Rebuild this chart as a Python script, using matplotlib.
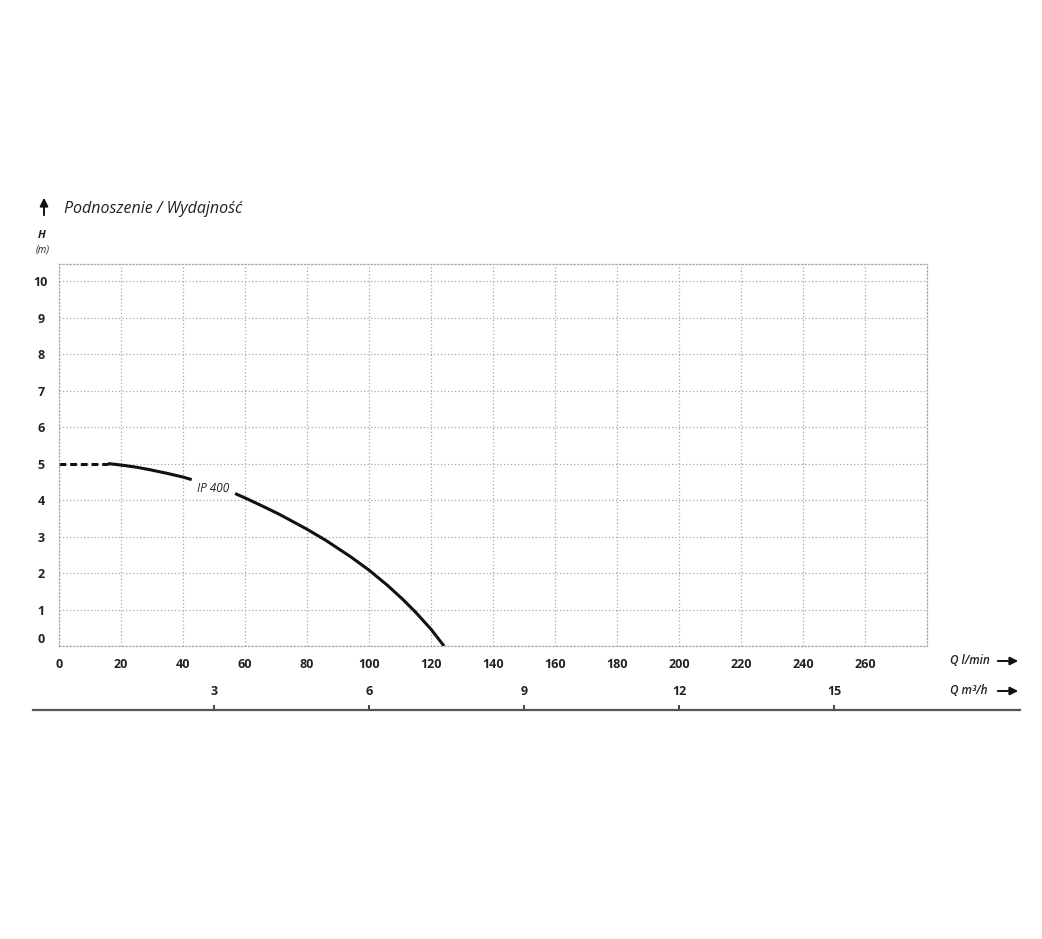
from matplotlib import pyplot as plt
from matplotlib.lines import Line2D
import numpy as np

plt.rcParams['font.family'] = ['Open Sans', 'DejaVu Sans']

# krzywa pompy IP 400 (odczyt z wykresu)
q_dash = [0, 15.8]
h_dash = [5.0, 5.0]
q_part1 = [15.8, 20, 25, 29.4, 35, 40, 42.8]
h_part1 = [5.0, 4.96, 4.9, 4.83, 4.73, 4.63, 4.56]
q_part2 = [56.8, 61, 66, 71.3, 80, 86, 94, 100, 106, 111, 115, 120, 124.2]
h_part2 = [4.18, 4.02, 3.82, 3.6, 3.2, 2.9, 2.45, 2.08, 1.66, 1.27, 0.93, 0.46, 0.0]

q_ticks = list(range(0, 261, 20))
h_ticks = list(range(0, 11))
m3h_ticks = [3, 6, 9, 12, 15]

W, H = 1042, 939
fig = plt.figure(figsize=(W / 100, H / 100), dpi=100)


def fx(px):
    return px / W


def fy(py):
    return 1 - py / H


ax = fig.add_axes([fx(59), fy(646), fx(927) - fx(59), fy(264) - fy(646)])
ax.set_xlim(0, 280)
ax.set_ylim(0, 10.47)

grid_kw = dict(color='#a8a8a8', linestyle=(0, (1, 1.8)), linewidth=0.9)
ax.set_xticks(q_ticks + [280])
ax.set_yticks(h_ticks)
ax.grid(True, **grid_kw)
for s in ax.spines.values():
    s.set_color('#a8a8a8')
    s.set_linestyle((0, (1, 1.8)))
    s.set_linewidth(0.9)

ax.set_xticklabels([str(v) for v in q_ticks] + [''], fontsize=9, fontweight='bold')
ax.set_yticklabels([str(v) for v in h_ticks], fontsize=9, fontweight='bold')
ax.tick_params(axis='x', length=0, pad=8.5, colors='#222222')
ax.tick_params(axis='y', length=0, pad=13, colors='#222222')
for lbl in ax.get_yticklabels():
    lbl.set_ha('center')
ax.get_yticklabels()[0].set_va('bottom')

# krzywa
ax.plot(q_dash, h_dash, color='#111111', lw=2.2, linestyle=(0, (2.2, 1.3)), solid_capstyle='butt')
ax.plot(q_part1, h_part1, color='#111111', lw=2.2, solid_capstyle='butt')
ax.plot(q_part2, h_part2, color='#111111', lw=2.2, solid_capstyle='butt')
ax.text(49.7, 4.33, 'IP 400', fontsize=8.5, style='italic', ha='center', va='center',
        color='#222222')

# druga skala Q m3/h
sec = ax.secondary_xaxis(-64 / 382, functions=(lambda q: q * 0.06, lambda m: m / 0.06))
sec.set_alignment('top')
sec.set_xticks(m3h_ticks)
sec.set_xticklabels([str(v) for v in m3h_ticks], fontsize=9, fontweight='bold')
sec.tick_params(axis='x', direction='out', length=3.5, width=1.2, pad=5, colors='#222222')
for s in sec.spines.values():
    s.set_visible(False)

fig.add_artist(Line2D([fx(33), fx(1020)], [fy(710), fy(710)], color='#555555', lw=1.6))

# opisy osi
fig.text(fx(950), fy(661), 'Q l/min', fontsize=8.5, style='italic', fontweight='semibold',
         ha='left', va='center', color='#222222')
fig.text(fx(950), fy(691), 'Q m³/h', fontsize=8.5, style='italic', fontweight='semibold',
         ha='left', va='center', color='#222222')
for yy in (661, 691):
    plt.annotate('', xy=(fx(1021), fy(yy)), xytext=(fx(995), fy(yy)),
                 xycoords='figure fraction', textcoords='figure fraction',
                 arrowprops=dict(arrowstyle='-|>', color='#111111', lw=1.4,
                                 mutation_scale=12))

fig.text(fx(42), fy(236), 'H', fontsize=8, style='italic', fontweight='bold',
         ha='center', va='center', color='#222222')
fig.text(fx(43), fy(250), '(m)', fontsize=7, style='italic',
         ha='center', va='center', color='#222222')

plt.annotate('', xy=(fx(44), fy(195)), xytext=(fx(44), fy(218)),
             xycoords='figure fraction', textcoords='figure fraction',
             arrowprops=dict(arrowstyle='-|>', color='#111111', lw=1.4, mutation_scale=12))
fig.text(fx(64), fy(209), 'Podnoszenie / Wydajność', fontsize=11.5, style='italic',
         ha='left', va='center', color='#222222')

plt.savefig('out.png', dpi=100)
